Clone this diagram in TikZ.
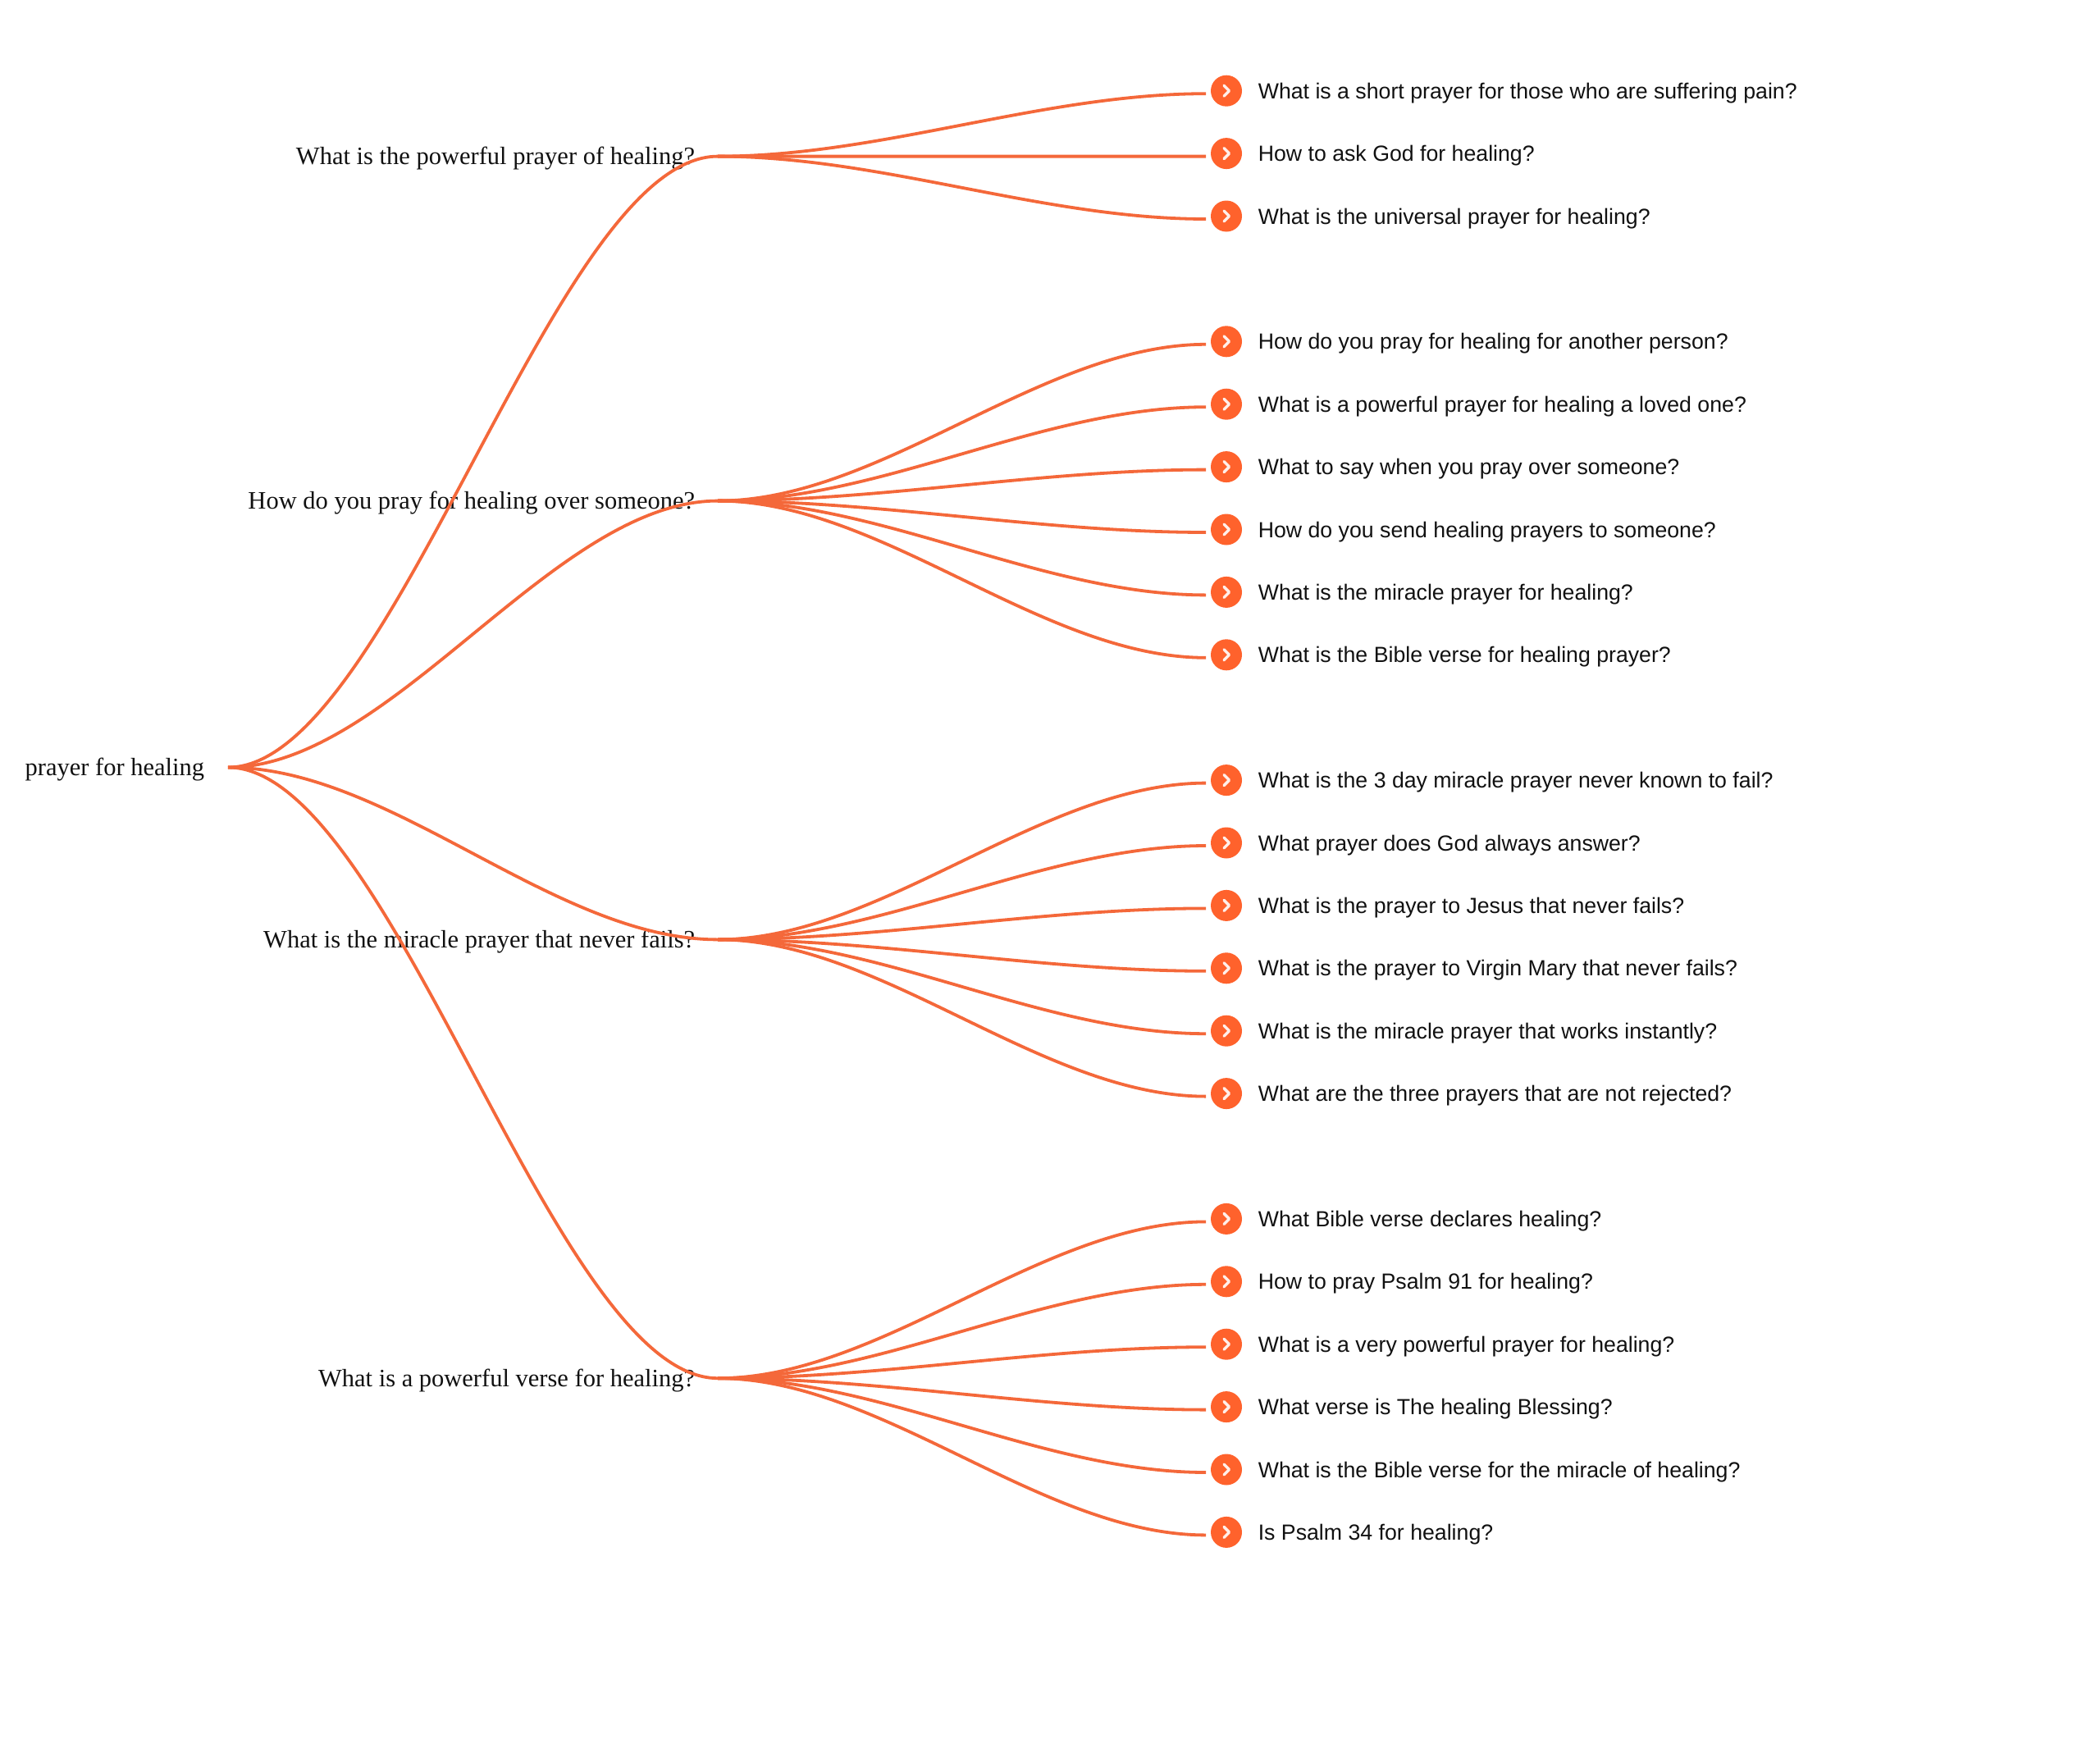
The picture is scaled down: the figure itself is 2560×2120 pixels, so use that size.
\documentclass[tikz,border=0pt]{standalone}
\usepackage{fontspec}
\setmainfont{Liberation Serif}
\newfontfamily\leaffont{Liberation Sans}
\usepackage{tikz}
\usetikzlibrary{positioning}
\definecolor{linkorange}{HTML}{F4683A}
\definecolor{dotorange}{HTML}{FF622C}
\definecolor{inktext}{HTML}{111111}

\begin{document}
\begin{tikzpicture}[x=1pt,y=-1pt,on grid,node distance=76.4pt,line width=3.8pt,
    link/.style={draw=linkorange,out=0,in=180,distance=200pt},
    bullet/.style={circle,fill=dotorange,inner sep=0pt,minimum size=38pt,
      path picture={\draw[white!90!dotorange,line width=3.4pt,line cap=round,line join=round]
        ([shift={(-3pt,6.5pt)}]path picture bounding box.center) -- ([shift={(3.5pt,0pt)}]path picture bounding box.center)
        -- ([shift={(-3pt,-6.5pt)}]path picture bounding box.center);}},
    leaf/.style={anchor=base west,inner sep=0pt,xshift=16pt,yshift=-9.5pt,text=inktext,font=\leaffont\fontsize{26.7}{27}\selectfont},
    topic/.style={anchor=base east,inner sep=0pt,yshift=-10pt,text=inktext,font=\fontsize{30.5}{31}\selectfont}]

    \useasboundingbox (0,0) rectangle (2560,2120);

    \coordinate (r) at (278,935.5);
    \coordinate (m0) at (875,190.6);
    \coordinate (m1) at (875,610.6);
    \coordinate (m2) at (875,1145.4);
    \coordinate (m3) at (875,1680.2);

    \node[topic] (root) at ([xshift=-27pt]r) {prayer for healing};
    \node[topic] (q0) at ([xshift=-26pt]m0) {What is the powerful prayer of healing?};
    \node[topic] (q1) at ([xshift=-26pt]m1) {How do you pray for healing over someone?};
    \node[topic] (q2) at ([xshift=-26pt]m2) {What is the miracle prayer that never fails?};
    \node[topic] (q3) at ([xshift=-26pt]m3) {What is a powerful verse for healing?};

    \node[bullet] (b0) at (1495,110.7) {};
    \node[bullet] (b1) [below=of b0] {};
    \node[bullet] (b2) [below=of b1] {};
    \node[bullet] (b3) [below=152.8pt of b2] {};
    \node[bullet] (b4) [below=of b3] {};
    \node[bullet] (b5) [below=of b4] {};
    \node[bullet] (b6) [below=of b5] {};
    \node[bullet] (b7) [below=of b6] {};
    \node[bullet] (b8) [below=of b7] {};
    \node[bullet] (b9) [below=152.8pt of b8] {};
    \node[bullet] (b10) [below=of b9] {};
    \node[bullet] (b11) [below=of b10] {};
    \node[bullet] (b12) [below=of b11] {};
    \node[bullet] (b13) [below=of b12] {};
    \node[bullet] (b14) [below=of b13] {};
    \node[bullet] (b15) [below=152.8pt of b14] {};
    \node[bullet] (b16) [below=of b15] {};
    \node[bullet] (b17) [below=of b16] {};
    \node[bullet] (b18) [below=of b17] {};
    \node[bullet] (b19) [below=of b18] {};
    \node[bullet] (b20) [below=of b19] {};

    \node[leaf] (t0) at (b0.east) {What is a short prayer for those who are suffering pain?};
    \node[leaf] (t1) at (b1.east) {How to ask God for healing?};
    \node[leaf] (t2) at (b2.east) {What is the universal prayer for healing?};
    \node[leaf] (t3) at (b3.east) {How do you pray for healing for another person?};
    \node[leaf] (t4) at (b4.east) {What is a powerful prayer for healing a loved one?};
    \node[leaf] (t5) at (b5.east) {What to say when you pray over someone?};
    \node[leaf] (t6) at (b6.east) {How do you send healing prayers to someone?};
    \node[leaf] (t7) at (b7.east) {What is the miracle prayer for healing?};
    \node[leaf] (t8) at (b8.east) {What is the Bible verse for healing prayer?};
    \node[leaf] (t9) at (b9.east) {What is the 3 day miracle prayer never known to fail?};
    \node[leaf] (t10) at (b10.east) {What prayer does God always answer?};
    \node[leaf] (t11) at (b11.east) {What is the prayer to Jesus that never fails?};
    \node[leaf] (t12) at (b12.east) {What is the prayer to Virgin Mary that never fails?};
    \node[leaf] (t13) at (b13.east) {What is the miracle prayer that works instantly?};
    \node[leaf] (t14) at (b14.east) {What are the three prayers that are not rejected?};
    \node[leaf] (t15) at (b15.east) {What Bible verse declares healing?};
    \node[leaf] (t16) at (b16.east) {How to pray Psalm 91 for healing?};
    \node[leaf] (t17) at (b17.east) {What is a very powerful prayer for healing?};
    \node[leaf] (t18) at (b18.east) {What verse is The healing Blessing?};
    \node[leaf] (t19) at (b19.east) {What is the Bible verse for the miracle of healing?};
    \node[leaf] (t20) at (b20.east) {Is Psalm 34 for healing?};

    \path (r) edge[link] (m0)
          (r) edge[link] (m1)
          (r) edge[link] (m2)
          (r) edge[link] (m3)
          (m0) edge[link] ([shift={(-4pt,-3.5pt)}]b0.west)
          (m0) edge[link] ([shift={(-4pt,-3.5pt)}]b1.west)
          (m0) edge[link] ([shift={(-4pt,-3.5pt)}]b2.west)
          (m1) edge[link] ([shift={(-4pt,-3.5pt)}]b3.west)
          (m1) edge[link] ([shift={(-4pt,-3.5pt)}]b4.west)
          (m1) edge[link] ([shift={(-4pt,-3.5pt)}]b5.west)
          (m1) edge[link] ([shift={(-4pt,-3.5pt)}]b6.west)
          (m1) edge[link] ([shift={(-4pt,-3.5pt)}]b7.west)
          (m1) edge[link] ([shift={(-4pt,-3.5pt)}]b8.west)
          (m2) edge[link] ([shift={(-4pt,-3.5pt)}]b9.west)
          (m2) edge[link] ([shift={(-4pt,-3.5pt)}]b10.west)
          (m2) edge[link] ([shift={(-4pt,-3.5pt)}]b11.west)
          (m2) edge[link] ([shift={(-4pt,-3.5pt)}]b12.west)
          (m2) edge[link] ([shift={(-4pt,-3.5pt)}]b13.west)
          (m2) edge[link] ([shift={(-4pt,-3.5pt)}]b14.west)
          (m3) edge[link] ([shift={(-4pt,-3.5pt)}]b15.west)
          (m3) edge[link] ([shift={(-4pt,-3.5pt)}]b16.west)
          (m3) edge[link] ([shift={(-4pt,-3.5pt)}]b17.west)
          (m3) edge[link] ([shift={(-4pt,-3.5pt)}]b18.west)
          (m3) edge[link] ([shift={(-4pt,-3.5pt)}]b19.west)
          (m3) edge[link] ([shift={(-4pt,-3.5pt)}]b20.west)
    ;
\end{tikzpicture}
\end{document}
